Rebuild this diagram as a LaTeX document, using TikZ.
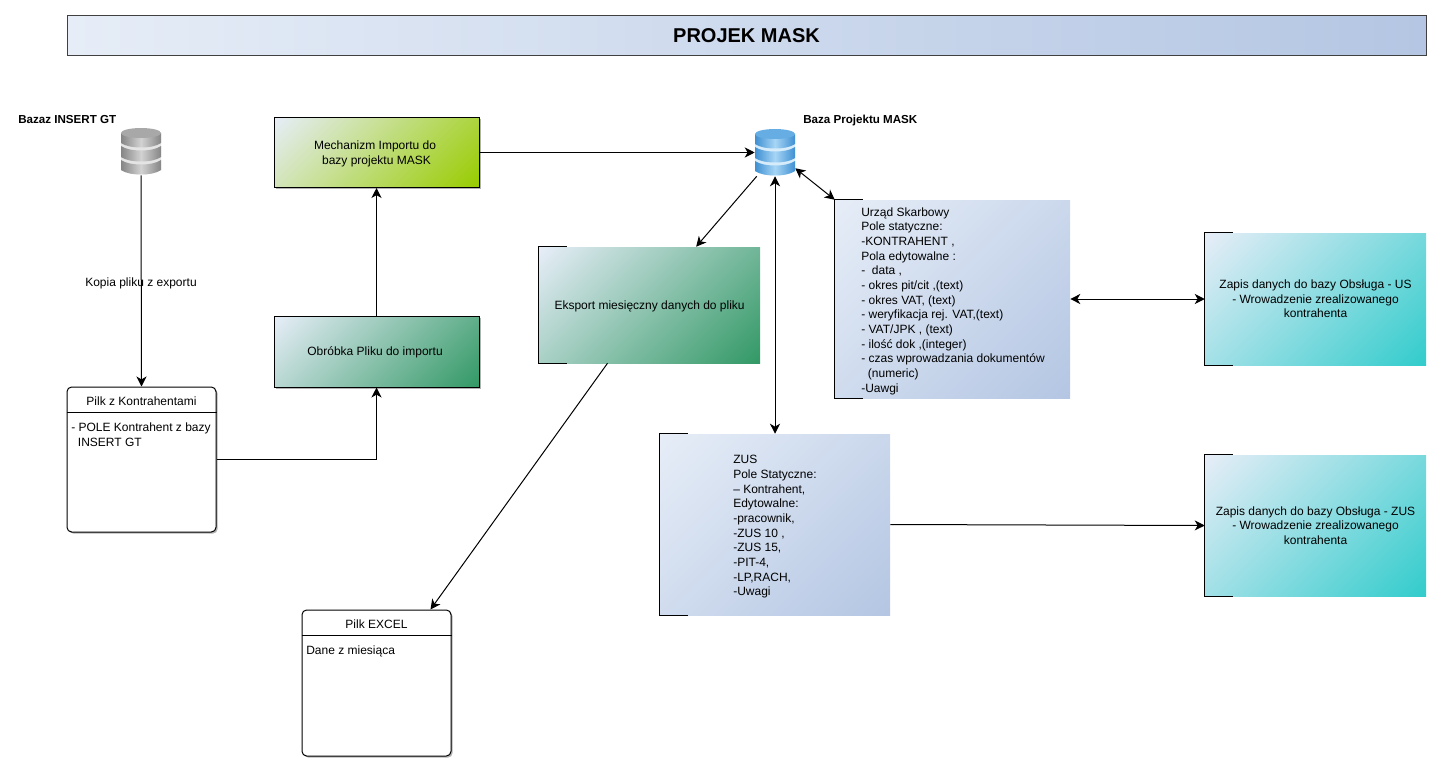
\documentclass[tikz,border=0pt]{standalone}
\usepackage{fontspec}
\setmainfont{Liberation Sans}
\usetikzlibrary{calc,arrows.meta,shadows}
\definecolor{gstart}{HTML}{E6EDF7}
\definecolor{gblue}{HTML}{B4C6E3}
\definecolor{glime}{HTML}{99CC00}
\definecolor{ggreen}{HTML}{339966}
\definecolor{gteal}{HTML}{33CCCC}
\pgfdeclareverticalshading{diagblue}{100bp}{color(0bp)=(gblue); color(15bp)=(gblue); color(85bp)=(gstart); color(100bp)=(gstart)}
\pgfdeclareverticalshading{diaglime}{100bp}{color(0bp)=(glime); color(15bp)=(glime); color(85bp)=(gstart); color(100bp)=(gstart)}
\pgfdeclareverticalshading{diaggreen}{100bp}{color(0bp)=(ggreen); color(15bp)=(ggreen); color(85bp)=(gstart); color(100bp)=(gstart)}
\pgfdeclareverticalshading{diagteal}{100bp}{color(0bp)=(gteal); color(15bp)=(gteal); color(85bp)=(gstart); color(100bp)=(gstart)}
\tikzset{
  softshadow/.style={drop shadow={shadow xshift=1.2pt,shadow yshift=-1.2pt,opacity=.3,fill=black}},
  shadedbox/.style={rectangle,inner sep=0pt,shading=#1,shading angle=45,
    align=center,font=\fontsize{9pt}{11pt}\selectfont},
  outlined/.style={draw=black,line width=.75pt,softshadow},
  filebox/.style={rectangle,draw=black,line width=.75pt,fill=white,rounded corners=3.5pt,inner sep=0pt,softshadow},
  label/.style={inner sep=0pt,font=\fontsize{9pt}{11pt}\selectfont,align=left},
  boldlabel/.style={inner sep=0pt,font=\fontsize{8.7pt}{10pt}\selectfont\bfseries},
  link/.style={line width=.75pt,-{Stealth[length=7.5pt,width=7.5pt,inset=2.2pt]}},
  twoway/.style={line width=.75pt,{Stealth[length=7.5pt,width=7.5pt,inset=2.2pt]}-{Stealth[length=7.5pt,width=7.5pt,inset=2.2pt]}},
}
\newcommand{\boxtext}[1]{\raisebox{-1pt}[\height][\depth]{\begin{tabular}{@{}c@{}}#1\end{tabular}}}
\newcommand{\bracketbox}[1]{\draw[line width=.75pt] ([xshift=21pt]#1.north west) -- (#1.north west) -- (#1.south west) -- ([xshift=21pt]#1.south west);}
\newcommand{\dbband}[5]{\shade[left color=#4,right color=#4,middle color=#5]
  (#1-20,#2) -- (#1-20,#3) .. controls (#1-12,#3+6) and (#1+12,#3+6) .. (#1+20,#3) -- (#1+20,#2)
  .. controls (#1+12,#2+6) and (#1-12,#2+6) .. (#1-20,#2) -- cycle;}
\newcommand{\dbicon}[6]{% cx, top y, side, centre, cap, gap
  \fill[#6] (#1-20,#2+5) -- (#1-20,#2+42) .. controls (#1-12,#2+48) and (#1+12,#2+48) .. (#1+20,#2+42) -- (#1+20,#2+5) -- cycle;
  \dbband{#1}{#2+5}{#2+15}{#3}{#4}
  \dbband{#1}{#2+18}{#2+29}{#3}{#4}
  \dbband{#1}{#2+32}{#2+42}{#3}{#4}
  \fill[#5] (#1,#2+5) ellipse [x radius=20,y radius=5];
}
\definecolor{dbgside}{HTML}{858585}
\definecolor{dbgmid}{HTML}{D2D2D2}
\definecolor{dbgcap}{HTML}{A8A8A8}
\definecolor{dbggap}{HTML}{E4E4E4}
\definecolor{dbbside}{HTML}{3F8FD2}
\definecolor{dbbmid}{HTML}{A6D6F5}
\definecolor{dbbcap}{HTML}{66ADE4}
\definecolor{dbbgap}{HTML}{D6ECFA}
\begin{document}
\begin{tikzpicture}[x=.75pt,y=-.75pt]
\useasboundingbox (0,0) rectangle (1441,770);

% title
\node[rectangle,draw=black!75,line width=.75pt,inner sep=0pt,left color=gstart,right color=gblue,
  minimum width=1359*.75pt,minimum height=40*.75pt,font=\fontsize{15pt}{18pt}\selectfont\bfseries]
  (title) at (746.5,35.5) {PROJEK MASK};

% database icons
\dbicon{141}{128}{dbgside}{dbgmid}{dbgcap}{dbggap}
\dbicon{775}{129}{dbbside}{dbbmid}{dbbcap}{dbbgap}
\node[minimum width=40*.75pt,minimum height=47*.75pt,inner sep=0pt] (db1) at (141,151.5) {};
\node[minimum width=40*.75pt,minimum height=47*.75pt,inner sep=0pt] (db2) at (775,152.5) {};
\node[boldlabel,anchor=west] (db1label) at (18,119.5) {Bazaz INSERT GT};
\node[boldlabel,anchor=west] (db2label) at (803,120.5) {Baza Projektu MASK};

% process boxes
\node[shadedbox=diaglime,outlined,minimum width=205*.75pt,minimum height=70*.75pt] (mech) at (376.5,152.5)
  {\boxtext{Mechanizm Importu do\hspace*{2.2pt}\\bazy projektu MASK}};
\node[shadedbox=diaggreen,outlined,minimum width=205*.75pt,minimum height=71*.75pt] (obr) at (376.5,351.5)
  {\boxtext{Obróbka Pliku do importu\hspace*{2.2pt}}};
\node[shadedbox=diaggreen,minimum width=221*.75pt,minimum height=116*.75pt] (exp) at (649.6,305)
  {\boxtext{Eksport miesięczny danych do pliku}};
\node[shadedbox=diagblue,minimum width=235*.75pt,minimum height=198*.75pt] (us) at (952.5,299) {};
\node[shadedbox=diagblue,minimum width=230*.75pt,minimum height=181*.75pt] (zus) at (775,524.5) {};
\node[shadedbox=diagteal,minimum width=221*.75pt,minimum height=132*.75pt] (zapus) at (1315.5,299)
  {\boxtext{Zapis danych do bazy Obsługa - US\\- Wrowadzenie zrealizowanego\\kontrahenta}};
\node[shadedbox=diagteal,minimum width=221*.75pt,minimum height=141*.75pt] (zapzus) at (1315.5,525.5)
  {\boxtext{Zapis danych do bazy Obsługa - ZUS\\- Wrowadzenie zrealizowanego\\kontrahenta}};
\bracketbox{exp}\bracketbox{us}\bracketbox{zus}\bracketbox{zapus}\bracketbox{zapzus}

\node[label,anchor=west] (ustext) at (861,301)
  {Urząd Skarbowy\\Pole statyczne:\\-KONTRAHENT ,\\Pola edytowalne :\\-\ \ data ,\\- okres pit/cit ,(text)\\- okres VAT, (text)\\- weryfikacja rej. VAT,(text)\\- VAT/JPK , (text)\\- ilość dok ,(integer)\\- czas wprowadzania dokumentów\\\ \ (numeric)\\-Uawgi};
\node[label,anchor=west] (zustext) at (733,527)
  {ZUS\\Pole Statyczne:\\– Kontrahent,\\Edytowalne:\\-pracownik,\\-ZUS 10 ,\\-ZUS 15,\\-PIT-4,\\-LP,RACH,\\-Uwagi};

% file boxes
\node[filebox,minimum width=149*.75pt,minimum height=145*.75pt] (file) at (141.5,459.5) {};
\draw[line width=.75pt] ($(file.north west)+(0,26)$) -- ($(file.north east)+(0,26)$);
\node[label] (filehead) at (141.5,401.7) {Pilk z Kontrahentami};
\node[label,anchor=north west] (filebody) at (71,423) {- POLE Kontrahent z bazy\\\ \ INSERT GT};
\node[filebox,minimum width=149*.75pt,minimum height=146*.75pt] (xls) at (376.5,683) {};
\draw[line width=.75pt] ($(xls.north west)+(0,26)$) -- ($(xls.north east)+(0,26)$);
\node[label] (xlshead) at (376.5,624.7) {Pilk EXCEL};
\node[label,anchor=west] (xlsbody) at (306,651.7) {Dane z miesiąca};

% connectors
\draw[link] (db1.south) -- (file.north);
\node[label] (copylabel) at (141,283) {Kopia pliku z exportu};
\draw[link] (file.east) -| (obr.south);
\draw[link] (obr.north) -- (mech.south);
\draw[link] (mech.east) -- (db2.west);
\draw[link] ($(db2.south west)+(2,0)$) -- ($(exp.north west)!.71!(exp.north east)$);
\draw[link] ($(exp.south west)!.31!(exp.south east)$) -- ($(xls.north west)!.86!(xls.north east)$);
\draw[twoway] ($(db2.south east)+(0,-8)$) -- (us.north west);
\draw[twoway] (db2.south) -- (zus.north);
\draw[twoway] (us.east) -- (zapus.west);
\draw[link] (zus.east) -- (zapzus.west);
\end{tikzpicture}
\end{document}
